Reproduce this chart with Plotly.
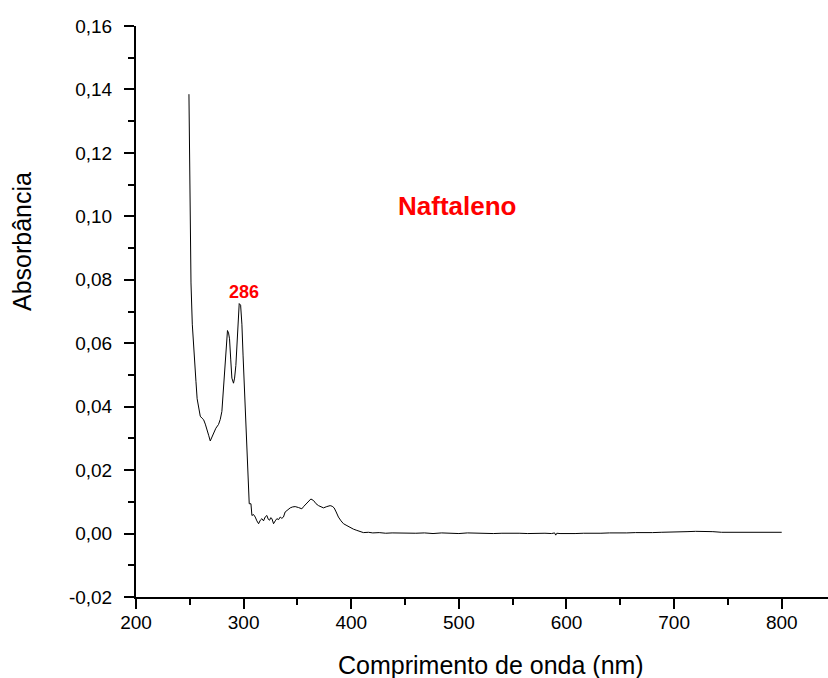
import plotly.graph_objects as go

# Spectrum (wavelength nm, absorbance)
wavelength = [
    249.2, 249.6, 250.2, 251.1, 252.3, 253.5, 254.6, 255.7, 256.8, 258.1,
    259.7, 261.2, 262.8, 264.4, 265.9, 267.5, 269.0, 270.5, 272.0, 274.2,
    276.7, 278.3, 279.8, 281.0, 282.3, 283.8, 285.0, 286.0, 286.9, 288.0,
    289.1, 290.6, 291.6, 292.8, 294.3, 295.9, 297.2, 298.4, 299.5, 300.6,
    301.8, 302.6, 303.5, 304.3, 305.2, 306.8, 307.7, 309.2, 310.8, 312.3,
    313.9, 315.5, 317.0, 318.5, 320.0, 321.6, 322.9, 324.1, 325.2, 326.3,
    327.8, 329.4, 330.9, 332.5, 334.0, 335.5, 337.0, 338.6, 341.0, 343.3,
    345.6, 347.9, 351.0, 354.1, 356.0, 358.1, 360.3, 362.5, 365.0, 367.3,
    369.6, 372.0, 374.2, 377.3, 380.4, 382.3, 384.1, 386.0, 388.1, 390.5,
    392.8, 396.0, 399.0, 402.0, 405.2, 408.0, 411.3, 416.0, 420.0, 426.0,
    432.0, 438.0, 445.0, 452.0, 460.0, 468.0, 476.0, 484.0, 492.0, 500.0,
    508.0, 516.0, 524.0, 532.0, 540.0, 548.0, 556.0, 564.0, 572.0, 580.0,
    586.0, 589.0, 590.0, 591.0, 594.0, 600.0, 608.0, 616.0, 624.0, 632.0,
    640.0, 648.0, 656.0, 664.0, 672.0, 680.0, 688.0, 696.0, 704.0, 712.0,
    720.0, 728.0, 736.0, 744.0, 752.0, 760.0, 768.0, 776.0, 784.0, 792.0,
    800.0,
]
absorbance = [
    0.1385, 0.1250, 0.1050, 0.0790, 0.0660, 0.0580, 0.0520, 0.0480, 0.0425, 0.0396,
    0.0370, 0.0364, 0.0359, 0.0345, 0.0323, 0.0310, 0.0292, 0.0305, 0.0318, 0.0332,
    0.0344, 0.0360, 0.0385, 0.0440, 0.0510, 0.0590, 0.0640, 0.0632, 0.0614, 0.0550,
    0.0490, 0.0474, 0.0490, 0.0530, 0.0630, 0.0725, 0.0720, 0.0660, 0.0560, 0.0470,
    0.0350, 0.0260, 0.0198, 0.0140, 0.0094, 0.0094, 0.0057, 0.0060, 0.0052, 0.0040,
    0.0031, 0.0042, 0.0047, 0.0040, 0.0052, 0.0057, 0.0045, 0.0042, 0.0050, 0.0047,
    0.0031, 0.0040, 0.0047, 0.0044, 0.0052, 0.0048, 0.0052, 0.0068, 0.0076, 0.0081,
    0.0084, 0.0085, 0.0082, 0.0078, 0.0086, 0.0094, 0.0103, 0.0109, 0.0104, 0.0094,
    0.0088, 0.0083, 0.0081, 0.0085, 0.0088, 0.0086, 0.0081, 0.0068, 0.0052, 0.0040,
    0.0031, 0.0025, 0.0019, 0.0014, 0.0010, 0.0006, 0.0003, 0.0004, 0.0002, 0.0003,
    0.0001, 0.0002, 0.0001, 0.0002, 0.0001, 0.0002, 0.0000, 0.0002, 0.0001, 0.0000,
    0.0002, 0.0001, 0.0002, 0.0000, 0.0001, 0.0002, 0.0001, 0.0000, 0.0001, 0.0001,
    0.0000, 0.0002, -0.0005, 0.0001, 0.0000, 0.0001, 0.0000, 0.0001, 0.0000, 0.0001,
    0.0002, 0.0001, 0.0002, 0.0003, 0.0002, 0.0003, 0.0004, 0.0004, 0.0005, 0.0006,
    0.0007, 0.0007, 0.0006, 0.0004, 0.0004, 0.0003, 0.0004, 0.0004, 0.0003, 0.0004,
    0.0004,
]

x_ticks = [200, 300, 400, 500, 600, 700, 800]
y_ticks = [-0.02, 0.00, 0.02, 0.04, 0.06, 0.08, 0.10, 0.12, 0.14, 0.16]
y_tick_labels = ["-0,02", "0,00", "0,02", "0,04", "0,06", "0,08", "0,10", "0,12", "0,14", "0,16"]

x_title = "Comprimento de onda (nm)"
y_title = "Absorbância"
label_name = "Naftaleno"
label_peak = "286"

FONT = "Arial, Liberation Sans, sans-serif"

fig = go.Figure()
fig.add_trace(go.Scatter(
    x=wavelength, y=absorbance, mode="lines",
    line=dict(color="black", width=1), showlegend=False, hoverinfo="skip",
))

axis_common = dict(
    showgrid=False, zeroline=False, showline=True, linecolor="black", linewidth=2,
    ticks="outside", ticklen=10, tickwidth=2, tickcolor="black",
    tickfont=dict(family=FONT, size=19, color="black"), mirror=False,
)

fig.update_layout(
    width=828, height=678,
    margin=dict(l=136, r=0, t=26, b=81),
    paper_bgcolor="white", plot_bgcolor="white",
    separators=",.",
    font=dict(family=FONT, color="black"),
    xaxis=dict(
        range=[200, 843], tickvals=x_ticks, ticktext=[str(v) for v in x_ticks],
        minor=dict(dtick=50, tick0=0, ticks="outside", ticklen=6, tickwidth=2, tickcolor="black"),
        ticklabelstandoff=-3,
        **axis_common,
    ),
    yaxis=dict(
        range=[-0.02, 0.16], tickvals=y_ticks, ticktext=y_tick_labels,
        minor=dict(dtick=0.01, tick0=0, ticks="outside", ticklen=6, tickwidth=2, tickcolor="black"),
        ticklabelstandoff=8,
        **axis_common,
    ),
    annotations=[
        dict(text=x_title, xref="paper", yref="paper", x=0.513, y=0, yshift=-68,
             showarrow=False, xanchor="center", yanchor="middle",
             font=dict(family=FONT, size=25, color="black")),
        dict(text=y_title, xref="paper", yref="paper", x=0, y=0.5, xshift=-114,
             yshift=(597 - 242) - 285.5, textangle=-90,
             showarrow=False, xanchor="center", yanchor="middle",
             font=dict(family=FONT, size=25, color="black")),
        dict(text="<b>" + label_name + "</b>", xref="x", yref="y", x=498.4, y=0.1034,
             showarrow=False, xanchor="center", yanchor="middle",
             font=dict(family=FONT, size=26, color="#ff0000")),
        dict(text="<b>" + label_peak + "</b>", xref="x", yref="y", x=300.6, y=0.0761,
             showarrow=False, xanchor="center", yanchor="middle",
             font=dict(family=FONT, size=18, color="#ff0000")),
    ],
)

fig.write_html("out.html")
